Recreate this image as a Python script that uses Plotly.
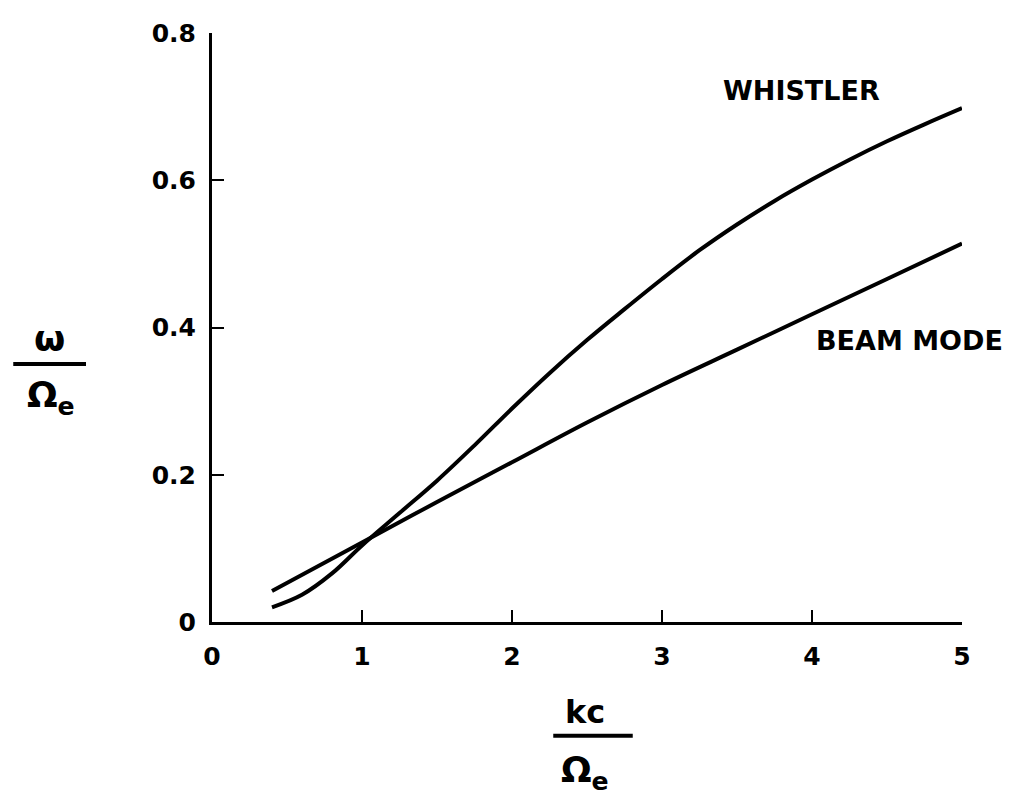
import plotly.graph_objects as go

# Data
whistler_x = [0.4, 0.6, 0.8, 1.0, 1.25, 1.5, 1.75, 2.0, 2.25, 2.5, 2.75, 3.0, 3.25, 3.5, 3.75, 4.0, 4.25, 4.5, 4.75, 5.0]
whistler_y = [0.020, 0.037, 0.066, 0.104, 0.148, 0.192, 0.240, 0.290, 0.338, 0.383, 0.425, 0.466, 0.505, 0.540, 0.572, 0.601, 0.628, 0.653, 0.676, 0.698]

beam_x = [0.4, 1.0, 1.5, 2.0, 2.5, 3.0, 3.5, 4.0, 4.5, 5.0]
beam_y = [0.042, 0.108, 0.163, 0.217, 0.271, 0.322, 0.370, 0.418, 0.466, 0.514]

x_tickvals = [0, 1, 2, 3, 4, 5]
x_ticktext = ["0", "1", "2", "3", "4", "5"]
y_tickvals = [0, 0.2, 0.4, 0.6, 0.8]
y_ticktext = ["0", "0.2", "0.4", "0.6", "0.8"]

FONT = "DejaVu Sans, Liberation Sans, sans-serif"

fig = go.Figure()
fig.add_trace(go.Scatter(x=whistler_x, y=whistler_y, mode="lines",
                         line=dict(color="black", width=4, shape="spline"),
                         name="WHISTLER", showlegend=False))
fig.add_trace(go.Scatter(x=beam_x, y=beam_y, mode="lines",
                         line=dict(color="black", width=4, shape="spline"),
                         name="BEAM MODE", showlegend=False))

axis_common = dict(showline=True, linecolor="black", linewidth=3, showgrid=False,
                   zeroline=False, ticks="inside", ticklen=12, tickwidth=2, tickcolor="black",
                   ticklabeloverflow="allow",
                   tickfont=dict(family=FONT, size=25, color="black", weight=700))

fig.update_xaxes(range=[0, 5], tickvals=x_tickvals, ticktext=x_ticktext,
                 ticklabelstandoff=10, **axis_common)
fig.update_yaxes(range=[0, 0.8001], tickvals=y_tickvals, ticktext=y_ticktext,
                 ticklabelstandoff=8, **axis_common)

annots = [
    dict(x=3.93, y=0.722, xref="x", yref="y", text="<b>WHISTLER</b>",
         font=dict(family=FONT, size=27, color="black")),
    dict(x=4.65, y=0.382, xref="x", yref="y", text="<b>BEAM MODE</b>",
         font=dict(family=FONT, size=27, color="black")),
    dict(x=-0.217, y=0.482, xref="paper", yref="paper", text="<b>ω</b>",
         font=dict(family=FONT, size=36, color="black")),
    dict(x=-0.215, y=0.382, xref="paper", yref="paper", text="<b>Ω<sub>e</sub></b>",
         font=dict(family=FONT, size=36, color="black")),
    dict(x=0.497, y=-0.152, xref="paper", yref="paper", text="<b>kc</b>",
         font=dict(family=FONT, size=32, color="black")),
    dict(x=0.497, y=-0.255, xref="paper", yref="paper", text="<b>Ω<sub>e</sub></b>",
         font=dict(family=FONT, size=36, color="black")),
]
for a in annots:
    a.update(showarrow=False, xanchor="center", yanchor="middle")
    fig.add_annotation(**a)

fig.add_shape(type="line", xref="paper", yref="paper", x0=-0.265, x1=-0.168, y0=0.438, y1=0.438,
              line=dict(color="black", width=4))
fig.add_shape(type="line", xref="paper", yref="paper", x0=0.455, x1=0.561, y0=-0.193, y1=-0.193,
              line=dict(color="black", width=4))

fig.update_layout(width=1016, height=799, margin=dict(l=204, r=62, t=11, b=185),
                  plot_bgcolor="white", paper_bgcolor="white", showlegend=False)

fig.write_html("out.html")
